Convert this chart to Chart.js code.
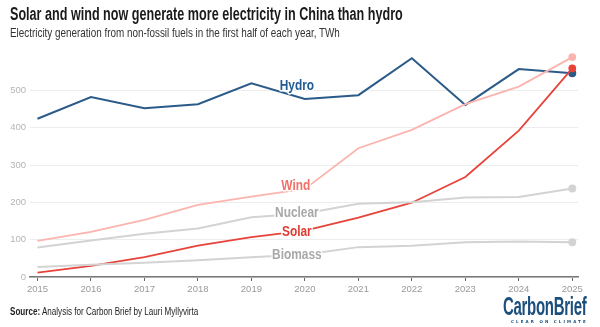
<!DOCTYPE html>
<html>
<head>
<meta charset="utf-8">
<script src="https://cdn.jsdelivr.net/npm/chart.js@4"></script>
<style>
  html, body { margin: 0; padding: 0; background: #fff; }
  #wrap { position: relative; width: 600px; height: 327px; overflow: hidden; font-family: "Liberation Sans", sans-serif; }
  #chart { position: absolute; left: 0; top: 0; }
  .txt { position: absolute; white-space: nowrap; transform-origin: 0 0; }
  .title { left: 10px; top: 4px; font-size: 17.5px; font-weight: bold; color: #1a1a1a; transform: scaleX(0.72); }
  .subtitle { left: 10px; top: 25px; font-size: 13px; color: #333; transform: scaleX(0.76); }
  .source { left: 10px; top: 305px; font-size: 10.5px; color: #222; transform: scaleX(0.77); }
  .logo { left: 503px; top: 292px; color: #1c4f7c; font-weight: bold; font-size: 25px; letter-spacing: -0.5px; transform: scaleX(0.6); }
  .tag { left: 511px; top: 319px; color: #1c4f7c; font-size: 4px; letter-spacing: 2.1px; font-family: "DejaVu Sans", sans-serif; font-weight: bold; }
</style>
</head>
<body>
<div id="wrap">
  <canvas id="chart" width="600" height="327"></canvas>
  <div class="txt title">Solar and wind now generate more electricity in China than hydro</div>
  <div class="txt subtitle">Electricity generation from non-fossil fuels in the first half of each year, TWh</div>
  <div class="txt source"><b>Source:</b> Analysis for Carbon Brief by Lauri Myllyvirta</div>
  <div class="txt logo">CarbonBrief</div>
  <div class="txt tag">CLEAR ON CLIMATE</div>
</div>
<script>
const years = [2015, 2016, 2017, 2018, 2019, 2020, 2021, 2022, 2023, 2024, 2025];
const hydro = [424, 482, 452, 463, 519, 477, 487, 586, 461, 557, 546];
const wind = [97, 121, 153, 193, 215, 236, 345, 394, 463, 510, 589];
const solar = [12, 30, 53, 84, 107, 124, 159, 199, 268, 392, 559];
const nuclear = [79, 98, 116, 130, 160, 170, 196, 200, 213, 214, 237];
const biomass = [27, 33, 38, 45, 53, 60, 80, 84, 93, 95, 93];
const yTicks = [0, 100, 200, 300, 400, 500];

const toPoints = (vals) => vals.map((v, i) => ({ x: years[i], y: v }));
const lastDot = (ctx) => ctx.dataIndex === years.length - 1 ? 3 : 0;
const tickFont = { family: '"Liberation Sans", sans-serif', size: 9.5 };

const series = [
    { label: 'Biomass', data: biomass, line: '#d3d3d3', text: '#a8a8a8', width: 2 },
    { label: 'Nuclear', data: nuclear, line: '#d3d3d3', text: '#a8a8a8', width: 2 },
    { label: 'Wind', data: wind, line: '#fbb4ae', text: '#f06f69', width: 1.8 },
    { label: 'Solar', data: solar, line: '#e8433a', text: '#e03b33', width: 1.8 },
    { label: 'Hydro', data: hydro, line: '#2b5b88', text: '#1f5c93', width: 2 }
];

// where each series name sits, in data units
const labelSpots = {
    Hydro: [2019.85, 510],
    Wind: [2019.83, 243],
    Nuclear: [2019.85, 172],
    Solar: [2019.85, 120],
    Biomass: [2019.85, 59]
};

const seriesLabels = {
    id: 'seriesLabels',
    afterDatasetsDraw(chart) {
        const { ctx, scales: { x, y } } = chart;
        series.forEach(s => {
            const [px, py] = labelSpots[s.label];
            ctx.save();
            ctx.translate(x.getPixelForValue(px), y.getPixelForValue(py));
            ctx.scale(0.85, 1);
            ctx.font = 'bold 14px "Liberation Sans", sans-serif';
            ctx.textAlign = 'center';
            ctx.textBaseline = 'middle';
            ctx.lineWidth = 3;
            ctx.strokeStyle = '#fff';
            ctx.lineJoin = 'round';
            ctx.strokeText(s.label, 0, 0);
            ctx.fillStyle = s.text;
            ctx.fillText(s.label, 0, 0);
            ctx.restore();
        });
    }
};

new Chart(document.getElementById('chart').getContext('2d'), {
    type: 'line',
    data: {
        datasets: series.map(s => ({
            label: s.label,
            data: toPoints(s.data),
            borderColor: s.line,
            backgroundColor: s.line,
            borderWidth: s.width,
            pointRadius: lastDot,
            pointHoverRadius: 0,
            tension: 0
        }))
    },
    options: {
        responsive: false,
        animation: false,
        layout: { padding: { top: 53, right: 22, left: 0, bottom: 0 } },
        plugins: { legend: { display: false }, tooltip: { enabled: false } },
        scales: {
            x: {
                type: 'linear',
                min: 2014.86,
                max: 2025.107,
                afterBuildTicks: (scale) => { scale.ticks = years.map(v => ({ value: v })); },
                afterFit: (scale) => { scale.height = 50; },
                grid: { display: true, drawOnChartArea: false, drawTicks: true, tickLength: 4, color: '#666', tickWidth: 1 },
                border: { display: true, color: '#777', width: 1.5 },
                ticks: {
                    color: '#9a9a9a',
                    font: tickFont,
                    padding: 3,
                    maxRotation: 0,
                    autoSkip: false,
                    callback: (v) => String(v)
                }
            },
            y: {
                min: 0,
                max: 600,
                afterBuildTicks: (scale) => { scale.ticks = yTicks.map(v => ({ value: v })); },
                afterFit: (scale) => { scale.width = 30; },
                grid: { color: '#ededed', drawTicks: false, lineWidth: 1 },
                border: { display: false },
                ticks: {
                    color: '#b5b5b5',
                    font: tickFont,
                    padding: 4
                }
            }
        }
    },
    plugins: [seriesLabels]
});
</script>
</body>
</html>
